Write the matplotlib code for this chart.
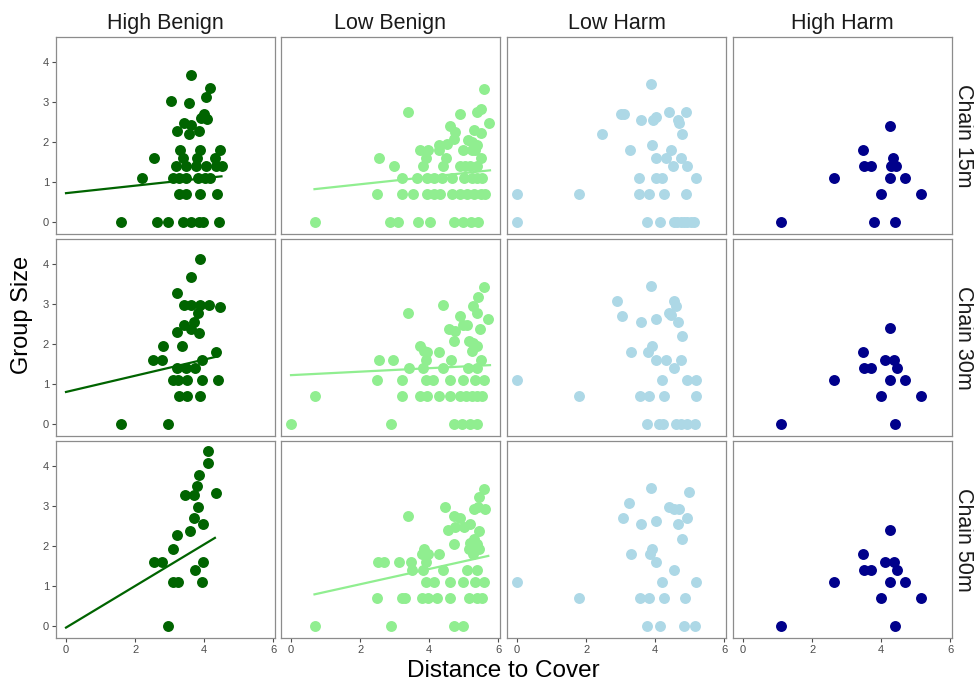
import matplotlib
matplotlib.use("Agg")
import matplotlib.pyplot as plt

plt.rcParams["font.family"] = ["Liberation Sans", "DejaVu Sans"]

# ── Data (distance to cover vs log group size) ───────────────────────────────
cols = ["High Benign", "Low Benign", "Low Harm", "High Harm"]
rows = ["Chain 15m", "Chain 30m", "Chain 50m"]
col_colors = ["#006400", "#90EE90", "#ADD8E6", "#00008B"]

# Chain 15m
hb15_x = [3.62, 4.18, 3.04, 3.55, 4.04, 4.00, 3.90, 4.07, 3.43, 3.21, 3.57, 3.86, 3.62, 2.55, 2.19,
          3.30, 3.88, 4.47, 3.38, 3.80, 4.31, 3.18, 3.48, 3.77, 4.06, 4.35, 4.51,
          3.09, 3.28, 3.48, 3.82, 4.01, 4.17, 3.28, 3.48, 3.88, 4.37,
          1.60, 2.63, 2.96, 3.38, 3.62, 3.86, 3.96, 4.42]
hb15_y = [3.67, 3.35, 3.03, 2.97, 3.12, 2.70, 2.60, 2.56, 2.46, 2.28, 2.19, 2.28, 2.42, 1.61, 1.10,
          1.79, 1.79, 1.79, 1.61, 1.61, 1.61, 1.39, 1.39, 1.39, 1.39, 1.39, 1.39,
          1.10, 1.10, 1.10, 1.10, 1.10, 1.10, 0.69, 0.69, 0.69, 0.69,
          0, 0, 0, 0, 0, 0, 0, 0]
lb15_x = [5.60, 5.49, 5.39, 3.40, 4.88, 5.73, 4.59, 4.76, 4.71, 5.29, 5.49, 4.27, 4.51, 5.13, 5.24, 5.39,
          3.74, 3.98, 4.98, 5.24, 5.34, 4.27, 2.55, 3.90, 4.49, 5.49,
          2.99, 3.83, 4.39, 4.90, 5.05, 5.19, 5.39,
          3.20, 3.64, 3.93, 4.13, 4.37, 4.66, 5.00, 5.24, 5.39, 5.53,
          2.48, 3.20, 3.52, 3.93, 4.13, 4.32, 4.66, 4.90, 5.10, 5.29, 5.49, 5.63,
          0.68, 2.87, 3.11, 3.69, 4.03, 4.71, 4.98, 5.22, 5.42]
lb15_y = [3.33, 2.82, 2.75, 2.75, 2.69, 2.48, 2.39, 2.25, 2.08, 2.29, 2.21, 1.93, 1.96, 2.06, 2.00, 1.92,
          1.79, 1.79, 1.79, 1.79, 1.79, 1.79, 1.61, 1.61, 1.61, 1.61,
          1.39, 1.39, 1.39, 1.39, 1.39, 1.39, 1.39,
          1.10, 1.10, 1.10, 1.10, 1.10, 1.10, 1.10, 1.10, 1.10, 1.10,
          0.69, 0.69, 0.69, 0.69, 0.69, 0.69, 0.69, 0.69, 0.69, 0.69, 0.69, 0.69,
          0, 0, 0, 0, 0, 0, 0, 0, 0]
lh15_x = [3.88, 3.02, 3.09, 3.59, 3.93, 4.01, 4.40, 4.88, 4.66, 4.69, 2.46, 4.77, 3.91, 3.28, 4.47,
          4.03, 4.30, 4.74, 4.53, 4.93, 3.52, 4.01, 4.20, 5.19,
          0.0, 1.78, 3.52, 3.83, 4.25, 4.88,
          0.0, 3.77, 4.13, 4.54, 4.74, 4.93, 5.13, 4.64, 4.84, 5.03]
lh15_y = [3.44, 2.69, 2.69, 2.54, 2.54, 2.63, 2.75, 2.75, 2.54, 2.46, 2.19, 2.19, 1.93, 1.79, 1.79,
          1.61, 1.61, 1.61, 1.39, 1.39, 1.10, 1.10, 1.10, 1.10,
          0.69, 0.69, 0.69, 0.69, 0.69, 0.69,
          0, 0, 0, 0, 0, 0, 0, 0, 0, 0]
hh15_x = [4.26, 3.47, 4.34, 3.50, 3.71, 4.27, 4.44, 2.64, 4.26, 4.70, 3.99, 5.15, 1.09, 3.78, 4.41]
hh15_y = [2.39, 1.79, 1.61, 1.39, 1.39, 1.39, 1.39, 1.10, 1.10, 1.10, 0.69, 0.69, 0, 0, 0]

# Chain 30m
hb30_x = [3.88, 3.62, 3.21, 3.43, 3.62, 3.88, 4.14, 4.47, 3.82, 3.43, 3.70, 3.62, 3.86, 3.21,
          2.82, 3.36, 4.35, 2.53, 2.78, 3.93, 3.21, 3.48, 3.72,
          3.09, 3.23, 3.50, 3.94, 4.39, 3.28, 3.50, 3.89, 1.60, 2.94]
hb30_y = [4.11, 3.67, 3.28, 2.98, 2.98, 2.98, 2.98, 2.93, 2.76, 2.48, 2.55, 2.36, 2.28, 2.29,
          1.95, 1.95, 1.79, 1.61, 1.61, 1.61, 1.39, 1.39, 1.39,
          1.10, 1.10, 1.10, 1.10, 1.10, 0.69, 0.69, 0.69, 0, 0]
lb30_x = [5.60, 5.42, 5.27, 5.39, 4.39, 3.40, 4.88, 5.70, 4.98, 5.10, 4.56, 4.76, 5.47, 4.71,
          5.15, 5.27, 5.39, 5.24, 3.74, 3.93, 3.86, 4.27,
          2.55, 2.94, 3.90, 4.63, 5.49, 3.43, 3.83, 4.39, 5.12, 5.39,
          2.48, 3.20, 3.90, 4.10, 4.59, 4.98, 5.32, 5.58,
          0.68, 3.20, 3.72, 3.93, 4.27, 4.61, 4.88, 5.07, 5.24, 5.39, 5.53,
          0.0, 2.89, 4.71, 4.95, 5.17, 5.39]
lb30_y = [3.43, 3.17, 2.94, 2.76, 2.98, 2.76, 2.69, 2.63, 2.48, 2.48, 2.38, 2.32, 2.38, 2.07,
          2.08, 2.03, 1.94, 1.82, 1.95, 1.79, 1.82, 1.79,
          1.61, 1.61, 1.61, 1.61, 1.61, 1.39, 1.39, 1.39, 1.39, 1.39,
          1.10, 1.10, 1.10, 1.10, 1.10, 1.10, 1.10, 1.10,
          0.69, 0.69, 0.69, 0.69, 0.69, 0.69, 0.69, 0.69, 0.69, 0.69, 0.69,
          0, 0, 0, 0, 0, 0]
lh30_x = [3.88, 2.89, 4.54, 4.61, 4.40, 4.47, 3.04, 3.59, 4.01, 4.66, 4.77, 3.91, 3.80, 3.31,
          4.03, 4.30, 4.74, 4.54, 0.0, 4.20, 4.93, 5.19,
          1.78, 3.55, 3.83, 4.25, 5.19, 3.77, 4.10, 4.22, 4.59, 4.76, 4.93, 5.15]
lh30_y = [3.44, 3.07, 3.08, 2.94, 2.78, 2.71, 2.69, 2.55, 2.63, 2.55, 2.19, 1.95, 1.79, 1.79,
          1.61, 1.61, 1.61, 1.39, 1.10, 1.10, 1.10, 1.10,
          0.69, 0.69, 0.69, 0.69, 0.69, 0, 0, 0, 0, 0, 0, 0]
hh30_x = [4.26, 3.47, 4.12, 4.36, 3.50, 3.71, 4.46, 2.64, 4.26, 4.70, 3.99, 5.15, 1.09, 4.41]
hh30_y = [2.40, 1.79, 1.61, 1.61, 1.39, 1.39, 1.39, 1.10, 1.10, 1.10, 0.69, 0.69, 0, 0]

# Chain 50m
hb50_x = [4.11, 4.11, 3.84, 3.79, 3.45, 3.70, 4.33, 3.82, 3.70, 3.60, 3.96, 3.21, 3.09,
          2.55, 2.78, 3.96, 3.72, 3.09, 3.23, 3.94, 2.94]
hb50_y = [4.38, 4.07, 3.77, 3.50, 3.28, 3.28, 3.33, 2.98, 2.69, 2.38, 2.54, 2.28, 1.93,
          1.61, 1.61, 1.61, 1.39, 1.10, 1.10, 1.10, 0]
lb50_x = [5.58, 5.44, 5.29, 5.42, 5.63, 4.45, 3.38, 4.71, 4.90, 4.54, 4.76, 5.00, 5.17, 5.44,
          5.29, 5.19, 5.39, 4.71, 5.15, 5.44, 5.27, 3.86, 3.79, 3.98, 4.27,
          2.52, 2.70, 3.13, 3.48, 3.90, 3.51, 3.83, 4.39, 5.10, 5.39,
          3.90, 4.13, 4.59, 4.98, 5.34, 5.58,
          2.48, 3.20, 3.30, 3.80, 3.96, 4.22, 4.61, 5.14, 5.39, 5.53,
          0.68, 2.89, 4.71, 4.97]
lb50_y = [3.42, 3.23, 2.93, 2.98, 2.92, 2.98, 2.75, 2.75, 2.69, 2.40, 2.48, 2.46, 2.54, 2.38,
          2.18, 2.08, 2.04, 2.06, 1.93, 1.92, 1.79, 1.93, 1.79, 1.79, 1.79,
          1.61, 1.61, 1.61, 1.61, 1.61, 1.39, 1.39, 1.39, 1.39, 1.39,
          1.10, 1.10, 1.10, 1.10, 1.10, 1.10,
          0.69, 0.69, 0.69, 0.69, 0.69, 0.69, 0.69, 0.69, 0.69, 0.69,
          0, 0, 0, 0]
lh50_x = [3.88, 4.99, 3.25, 4.40, 4.54, 4.69, 3.07, 4.93, 3.59, 4.01, 4.66, 4.77, 3.91, 3.86,
          3.31, 4.03, 4.54, 0.0, 4.20, 5.19, 1.78, 3.55, 3.83, 4.25, 4.85, 3.77, 4.13, 4.83, 5.16]
lh50_y = [3.44, 3.35, 3.07, 2.98, 2.93, 2.92, 2.69, 2.69, 2.54, 2.63, 2.54, 2.18, 1.93, 1.79,
          1.79, 1.61, 1.39, 1.10, 1.10, 1.10, 0.69, 0.69, 0.69, 0.69, 0.69, 0, 0, 0, 0]
hh50_x = [4.26, 3.47, 4.12, 4.36, 3.50, 3.71, 4.46, 2.64, 4.26, 4.70, 3.99, 5.15, 1.09, 4.41]
hh50_y = [2.39, 1.79, 1.61, 1.61, 1.39, 1.39, 1.39, 1.10, 1.10, 1.10, 0.69, 0.69, 0, 0]

# fitted lm lines: (x0, x1, y0, y1); None = no line
fit_15 = [(0.0, 4.50, 0.72, 1.14), (0.68, 5.76, 0.82, 1.29), None, None]
fit_30 = [(0.0, 4.40, 0.80, 1.69), (0.0, 5.76, 1.22, 1.47), None, None]
fit_50 = [(0.0, 4.31, -0.04, 2.20), (0.68, 5.71, 0.79, 1.75), None, None]

panels = [
    [(hb15_x, hb15_y), (lb15_x, lb15_y), (lh15_x, lh15_y), (hh15_x, hh15_y)],
    [(hb30_x, hb30_y), (lb30_x, lb30_y), (lh30_x, lh30_y), (hh30_x, hh30_y)],
    [(hb50_x, hb50_y), (lb50_x, lb50_y), (lh50_x, lh50_y), (hh50_x, hh50_y)],
]
fits = [fit_15, fit_30, fit_50]

# ── Canvas ────────────────────────────────────────────────────────────────────
W, H = 974, 684
fig = plt.figure(figsize=(W / 100, H / 100), dpi=100)
fig.patch.set_facecolor("white")

col_left = [56, 281, 507, 733]
row_top = [37, 239, 441]
pw, ph = 219, 197

for r in range(3):
    for c in range(4):
        L, T = col_left[c], row_top[r]
        ax = fig.add_axes([L / W, 1 - (T + ph) / H, pw / W, ph / H])
        xs, ys = panels[r][c]
        ax.scatter(xs, ys, s=62, color=col_colors[c], linewidths=0, zorder=3)
        f = fits[r][c]
        if f is not None:
            ax.plot([f[0], f[1]], [f[2], f[3]], color=col_colors[c], lw=1.6, zorder=4)
        ax.set_xlim(-0.29, 6.05)
        ax.set_ylim(-0.30, 4.62)
        ax.set_xticks([0, 2, 4, 6])
        ax.set_yticks([0, 1, 2, 3, 4])
        for sp in ax.spines.values():
            sp.set_color("#8c8c8c")
            sp.set_linewidth(0.9)
        ax.tick_params(colors="#4d4d4d", labelsize=8, length=3, width=0.8,
                       labelcolor="#4d4d4d", pad=2)
        if c != 0:
            ax.tick_params(axis="y", left=False, labelleft=False)
        if r != 2:
            ax.tick_params(axis="x", bottom=False, labelbottom=False)
        if r == 0:
            ax.set_title(cols[c], fontsize=15.5, color="#1a1a1a", pad=6)

# row strip labels on the right
for r in range(3):
    yc = 1 - (row_top[r] + ph / 2) / H
    fig.text(963 / W, yc, rows[r], rotation=-90, ha="center", va="center",
             fontsize=15.5, color="#1a1a1a")

fig.text(22 / W, 1 - 315 / H, "Group Size", rotation=90, ha="center", va="center",
         fontsize=17, color="black")
fig.text(503 / W, 1 - 671 / H, "Distance to Cover", ha="center", va="center",
         fontsize=17.5, color="black")

fig.savefig("out.png", dpi=100, facecolor="white")
plt.close(fig)
